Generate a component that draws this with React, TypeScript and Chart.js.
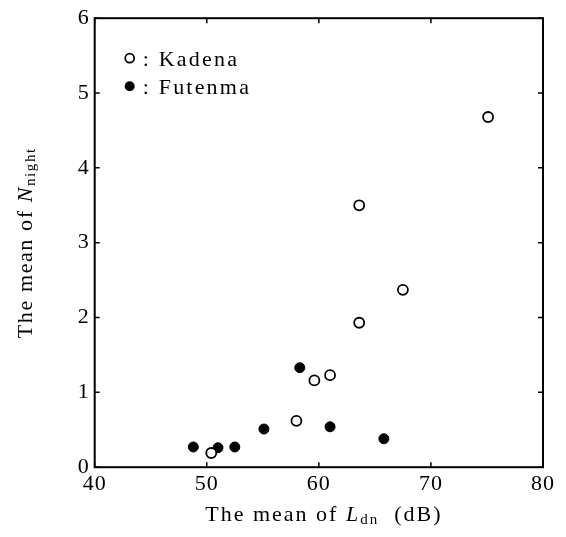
import React, { useEffect, useRef } from "react";
import { Chart, registerables } from "chart.js";

Chart.register(...registerables);

const kadenaX = [75.1, 63.6, 67.5, 63.6, 61.0, 59.6, 58.0, 50.4];
const kadenaY = [4.68, 3.5, 2.37, 1.93, 1.23, 1.16, 0.62, 0.19];
const futenmaX = [58.3, 48.8, 51.0, 52.5, 55.1, 61.0, 65.8];
const futenmaY = [1.33, 0.27, 0.26, 0.27, 0.51, 0.54, 0.38];
const xTicks = [40, 50, 60, 70, 80];
const yTicks = [0, 1, 2, 3, 4, 5, 6];
const seriesNames = ["Kadena", "Futenma"];

const SERIF = "'Liberation Serif', 'Times New Roman', serif";

function drawSegments(
  ctx: CanvasRenderingContext2D,
  segs: { t: string; font: string; dy: number }[],
  cx: number,
  cy: number
) {
  let total = 0;
  for (const s of segs) {
    ctx.font = s.font;
    total += ctx.measureText(s.t).width;
  }
  let x = cx - total / 2;
  ctx.textAlign = "left";
  ctx.textBaseline = "alphabetic";
  for (const s of segs) {
    ctx.font = s.font;
    ctx.fillText(s.t, x, cy + s.dy);
    x += ctx.measureText(s.t).width;
  }
}

const spacing = {
  id: "spacing",
  beforeDraw(chart: any) {
    (chart.ctx as any).letterSpacing = "1px";
  },
  afterDatasetsDraw(chart: any) {
    (chart.ctx as any).letterSpacing = "0px";
  },
};

const decor = {
  id: "decor",
  afterDraw(chart: any) {
    const ctx: CanvasRenderingContext2D = chart.ctx;
    const c: any = ctx;
    const a = chart.chartArea;
    const xs = chart.scales.x;
    const ys = chart.scales.y;
    ctx.save();
    ctx.strokeStyle = "#000";
    ctx.fillStyle = "#000";
    // frame
    ctx.lineWidth = 2;
    ctx.strokeRect(a.left, a.top, a.right - a.left, a.bottom - a.top);
    // inward ticks
    ctx.lineWidth = 1.5;
    const tl = 5;
    ctx.beginPath();
    for (const v of xTicks) {
      const p = xs.getPixelForValue(v);
      ctx.moveTo(p, a.bottom);
      ctx.lineTo(p, a.bottom - tl);
      ctx.moveTo(p, a.top);
      ctx.lineTo(p, a.top + tl);
    }
    for (const v of yTicks) {
      const p = ys.getPixelForValue(v);
      ctx.moveTo(a.left, p);
      ctx.lineTo(a.left + tl, p);
      ctx.moveTo(a.right, p);
      ctx.lineTo(a.right - tl, p);
    }
    ctx.stroke();

    // legend
    const lx = a.left + 35;
    const ly1 = a.top + 40;
    const ly2 = a.top + 68;
    ctx.lineWidth = 1.8;
    ctx.beginPath();
    ctx.arc(lx, ly1, 4.5, 0, Math.PI * 2);
    ctx.fillStyle = "#fff";
    ctx.fill();
    ctx.stroke();
    ctx.fillStyle = "#000";
    ctx.beginPath();
    ctx.arc(lx, ly2, 5, 0, Math.PI * 2);
    ctx.fill();
    c.letterSpacing = "2.2px";
    ctx.font = "22px " + SERIF;
    ctx.textAlign = "left";
    ctx.textBaseline = "alphabetic";
    ctx.fillText(": " + seriesNames[0], lx + 13, ly1 + 7.5);
    ctx.fillText(": " + seriesNames[1], lx + 13, ly2 + 7.5);

    // x title
    const f = "22px " + SERIF;
    const fi = "italic 22px " + SERIF;
    const fs = "15px " + SERIF;
    c.letterSpacing = "2px";
    drawSegments(
      ctx,
      [
        { t: "The mean of ", font: f, dy: 0 },
        { t: "L", font: fi, dy: 0 },
        { t: "dn", font: fs, dy: 3 },
        { t: "  (dB)", font: f, dy: 0 },
      ],
      (a.left + a.right) / 2 + 5,
      521
    );
    // y title
    c.letterSpacing = "1.6px";
    ctx.save();
    ctx.translate(32, (a.top + a.bottom) / 2);
    ctx.rotate(-Math.PI / 2);
    drawSegments(
      ctx,
      [
        { t: "The mean of ", font: f, dy: 0 },
        { t: "N", font: fi, dy: 0 },
        { t: "night", font: fs, dy: 3 },
      ],
      0,
      0
    );
    ctx.restore();
    c.letterSpacing = "0px";
    ctx.restore();
  },
};

export default function App() {
  const ref = useRef<HTMLCanvasElement>(null);
  useEffect(() => {
    if (!ref.current) return;
    const chart = new Chart(ref.current, {
      type: "scatter",
      data: {
        datasets: [
          {
            label: seriesNames[0],
            data: kadenaX.map((x, i) => ({ x, y: kadenaY[i] })),
            backgroundColor: "#fff",
            borderColor: "#000",
            borderWidth: 1.8,
            pointRadius: 5,
          },
          {
            label: seriesNames[1],
            data: futenmaX.map((x, i) => ({ x, y: futenmaY[i] })),
            backgroundColor: "#000",
            borderColor: "#000",
            borderWidth: 1,
            pointRadius: 5,
          },
        ],
      },
      options: {
        responsive: false,
        animation: false,
        layout: { padding: { left: 0, top: 15, right: 23, bottom: 0 } },
        plugins: { legend: { display: false }, tooltip: { enabled: false } },
        scales: {
          x: {
            type: "linear",
            min: 40,
            max: 80,
            afterBuildTicks: (s: any) => {
              s.ticks = xTicks.map((v) => ({ value: v }));
            },
            afterFit: (s: any) => {
              s.height = 69.8;
            },
            grid: { display: false, drawTicks: false },
            border: { display: false },
            ticks: { color: "#000", font: { family: SERIF, size: 22 }, padding: 4, maxRotation: 0 },
          },
          y: {
            type: "linear",
            min: 0,
            max: 6,
            afterBuildTicks: (s: any) => {
              s.ticks = yTicks.map((v) => ({ value: v }));
            },
            afterFit: (s: any) => {
              s.width = 94.7;
            },
            grid: { display: false, drawTicks: false },
            border: { display: false },
            ticks: { color: "#000", font: { family: SERIF, size: 22 }, padding: 5 },
          },
        },
      },
      plugins: [spacing, decor],
    } as any);
    return () => chart.destroy();
  }, []);
  return (
    <canvas
      ref={ref}
      width={566}
      height={537}
      style={{ position: "absolute", left: 0, top: 0, width: 566, height: 537, background: "#fff" }}
    />
  );
}
